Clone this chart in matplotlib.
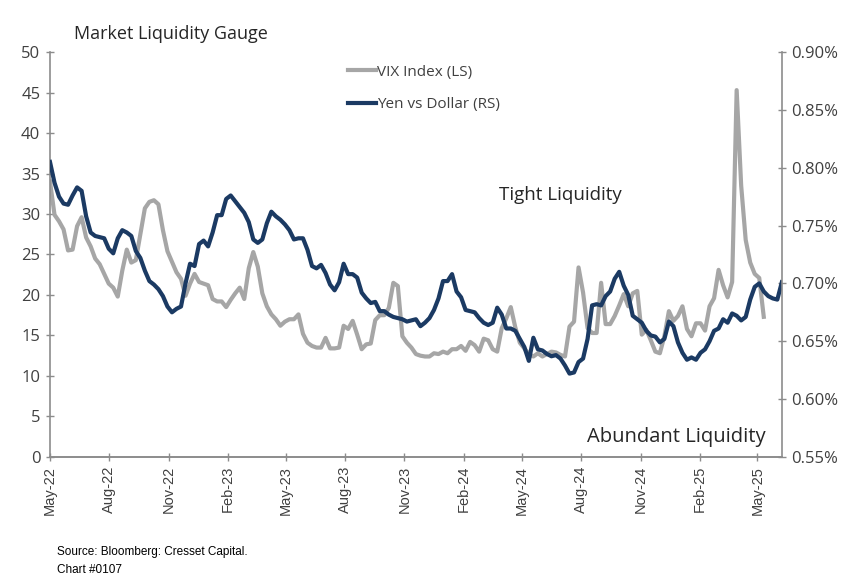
import numpy as np
import pandas as pd
import matplotlib
matplotlib.use('Agg')
import matplotlib.pyplot as plt
import matplotlib.dates as mdates
from matplotlib.ticker import FuncFormatter

# weekly observations, May-22 to Jun-25
dates = pd.date_range('2022-05-01', periods=163, freq='W-SUN')

vix = [34.0, 29.9, 29.1, 28.1, 25.5, 25.6, 28.5, 29.6, 27.1, 26.0,
       24.5, 23.8, 22.6, 21.4, 20.9, 19.8, 23.0, 25.6, 24.0, 24.3,
       27.5, 30.7, 31.5, 31.7, 31.2, 28.0, 25.4, 24.1, 22.8, 22.0,
       19.9, 21.4, 22.6, 21.6, 21.4, 21.2, 19.5, 19.2, 19.2, 18.5,
       19.4, 20.2, 20.9, 19.5, 23.3, 25.3, 23.5, 20.2, 18.6, 17.6,
       17.0, 16.2, 16.7, 17.0, 17.0, 17.6, 15.2, 14.1, 13.7, 13.5,
       13.5, 14.7, 13.4, 13.4, 13.5, 16.2, 15.8, 16.8, 15.1, 13.3,
       13.9, 14.0, 16.9, 17.5, 17.5, 18.4, 21.5, 21.1, 14.9, 14.1,
       13.5, 12.7, 12.5, 12.4, 12.4, 12.8, 12.7, 13.0, 12.8, 13.3,
       13.3, 13.7, 13.1, 14.2, 13.8, 13.0, 14.6, 14.4, 13.3, 13.0,
       15.9, 17.1, 18.5, 16.0, 14.1, 13.4, 12.7, 12.4, 12.8, 12.4,
       12.7, 13.0, 12.9, 12.6, 12.4, 16.1, 16.7, 23.4, 20.3, 15.9,
       15.3, 15.3, 21.5, 16.4, 16.4, 17.4, 18.7, 20.1, 18.6, 20.2,
       20.5, 15.1, 15.7, 14.4, 13.0, 12.8, 14.9, 18.0, 16.8, 17.4,
       18.6, 15.8, 14.9, 16.5, 16.5, 15.6, 18.6, 19.6, 23.1, 21.2,
       19.7, 21.6, 45.3, 33.5, 26.8, 24.0, 22.6, 22.1, 17.3, np.nan,
       np.nan, np.nan, np.nan]

yen = [0.805, 0.787, 0.775, 0.769, 0.768, 0.776, 0.783, 0.780, 0.758, 0.744,
       0.741, 0.740, 0.739, 0.730, 0.726, 0.739, 0.746, 0.744, 0.741, 0.728,
       0.722, 0.711, 0.702, 0.699, 0.695, 0.689, 0.680, 0.675, 0.678, 0.680,
       0.700, 0.717, 0.715, 0.734, 0.737, 0.732, 0.744, 0.759, 0.759, 0.773,
       0.776, 0.771, 0.766, 0.761, 0.753, 0.738, 0.735, 0.738, 0.752, 0.762,
       0.758, 0.755, 0.751, 0.746, 0.738, 0.739, 0.739, 0.729, 0.715, 0.713,
       0.716, 0.709, 0.699, 0.694, 0.701, 0.717, 0.708, 0.708, 0.705, 0.692,
       0.687, 0.683, 0.684, 0.676, 0.676, 0.673, 0.671, 0.670, 0.669, 0.667,
       0.668, 0.669, 0.663, 0.666, 0.670, 0.677, 0.687, 0.702, 0.702, 0.708,
       0.693, 0.688, 0.677, 0.676, 0.675, 0.670, 0.666, 0.664, 0.666, 0.679,
       0.673, 0.661, 0.661, 0.659, 0.652, 0.645, 0.633, 0.653, 0.643, 0.642,
       0.639, 0.637, 0.638, 0.635, 0.629, 0.622, 0.623, 0.632, 0.635, 0.652,
       0.681, 0.682, 0.681, 0.689, 0.693, 0.704, 0.710, 0.698, 0.690, 0.672,
       0.669, 0.666, 0.659, 0.655, 0.654, 0.649, 0.652, 0.667, 0.663, 0.649,
       0.640, 0.634, 0.636, 0.634, 0.640, 0.643, 0.650, 0.659, 0.661, 0.669,
       0.666, 0.674, 0.672, 0.668, 0.671, 0.686, 0.697, 0.700, 0.693, 0.689,
       0.687, 0.686, 0.701]

gray = '#A6A6A6'
navy = '#1B3A63'
axis_col = '#8C8C8C'
txt_col = '#404040'
font = 'Open Sans'

fig = plt.figure(figsize=(8.62, 5.85), dpi=100)
ax = fig.add_axes([0.058, 0.219, 0.849, 0.692])
ax2 = ax.twinx()

l1, = ax.plot(dates, vix, color=gray, lw=3.0, label='VIX Index (LS)')
l2, = ax2.plot(dates, yen, color=navy, lw=3.0, label='Yen vs Dollar (RS)')

ax.set_xlim(dates[0], dates[-1])
ax.set_ylim(0, 50)
ax.set_yticks(np.arange(0, 51, 5))
ax2.set_ylim(0.55, 0.90)
ax2.set_yticks(np.arange(0.55, 0.901, 0.05))
ax2.yaxis.set_major_formatter(FuncFormatter(lambda v, p: '%.2f%%' % v))

ax.xaxis.set_major_locator(mdates.MonthLocator(bymonth=[2, 5, 8, 11]))
ax.xaxis.set_major_formatter(mdates.DateFormatter('%b-%y'))

for a in (ax, ax2):
    a.spines['top'].set_visible(False)
    for s in ('left', 'right', 'bottom'):
        a.spines[s].set_color(axis_col)
        a.spines[s].set_linewidth(1.2)
    a.tick_params(direction='inout', length=6, width=1, color=axis_col, labelcolor=txt_col)
ax.spines['right'].set_visible(False)
ax2.spines['left'].set_visible(False)
ax.tick_params(axis='y', pad=4)
ax2.tick_params(axis='y', pad=4)

for t in ax.get_yticklabels() + ax2.get_yticklabels():
    t.set_fontfamily(font)
    t.set_fontsize(12)
for t in ax.get_xticklabels():
    t.set_fontfamily('Liberation Sans')
    t.set_fontsize(10.5)
    t.set_rotation(90)

leg = ax.legend(handles=[l1, l2], loc='upper left', bbox_to_anchor=(0.397, 0.988),
                frameon=False, handlelength=1.8, handletextpad=0.1, labelspacing=1.15,
                borderpad=0, prop={'family': font, 'size': 11})
for t in leg.get_texts():
    t.set_color(txt_col)

ax.text(0.697, 0.647, 'Tight Liquidity', transform=ax.transAxes, ha='center', va='center',
        fontsize=13.5, family=font, color='#262626')
ax.text(0.856, 0.049, 'Abundant Liquidity', transform=ax.transAxes, ha='center', va='center',
        fontsize=14.5, family=font, color='#262626')

fig.text(0.086, 0.942, 'Market Liquidity Gauge', ha='left', va='center', fontsize=13,
         family=font, color='#262626')
fig.text(0.066, 0.057, 'Source: Bloomberg: Cresset Capital.', ha='left', va='center',
         fontsize=8.5, family='Liberation Sans', color='black')
fig.text(0.066, 0.026, 'Chart #0107', ha='left', va='center', fontsize=8.5,
         family='Liberation Sans', color='black')

fig.savefig('out.png', dpi=100)
